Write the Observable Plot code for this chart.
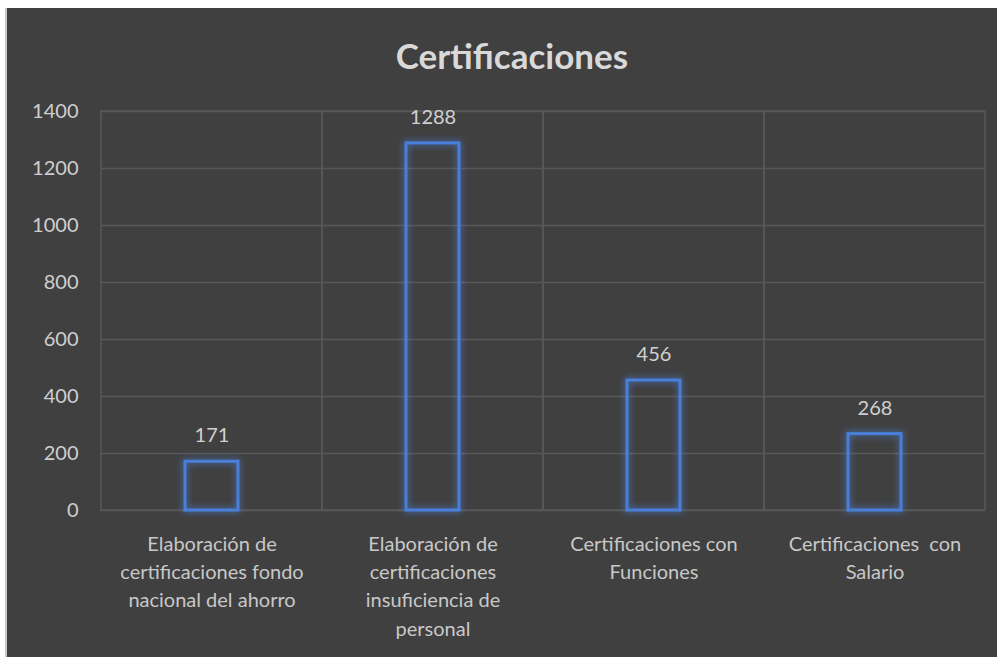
<!DOCTYPE html>
<html>
<head>
<meta charset="utf-8">
<script src="https://cdn.jsdelivr.net/npm/d3@7"></script>
<script src="https://cdn.jsdelivr.net/npm/@observablehq/plot@0.6"></script>
<style>
  html, body { margin: 0; padding: 0; background: #ffffff; width: 999px; height: 657px; overflow: hidden; }
  #panel { position: absolute; left: 7px; top: 8px; width: 990px; height: 649px; background: #404040; box-shadow: -2px 0 0 #c8c8c8; }
  #title { position: absolute; left: 0; top: 26px; width: 1010px; text-align: center; color: #d9d9d9;
    font-family: Lato, sans-serif; font-weight: bold; font-size: 35px; }
  #chart { position: absolute; left: 0; top: 87px; }
  #chart svg g[aria-label="y-axis tick label"] text { font-size: 20px; }
  #chart svg g[aria-label="x-axis tick label"] text { font-size: 20px; }
  #chart svg g[aria-label="text"] text { font-size: 20px; }
</style>
</head>
<body>
<div id="panel">
  <div id="title">Certificaciones</div>
  <div id="chart"></div>
</div>
<script>
const categories = [
  "Elaboración de certificaciones fondo nacional del ahorro",
  "Elaboración de certificaciones insuficiencia de personal",
  "Certificaciones con Funciones",
  "Certificaciones  con Salario"
];
const tickLabels = [
  "Elaboración de\ncertificaciones fondo\nnacional del ahorro",
  "Elaboración de\ncertificaciones\ninsuficiencia de\npersonal",
  "Certificaciones con\nFunciones",
  "Certificaciones  con\nSalario"
];
const values = [171, 1288, 456, 268];
const yTicks = [0, 200, 400, 600, 800, 1000, 1200, 1400];

const data = categories.map((c, i) => ({category: c, value: values[i]}));
const labelOf = new Map(categories.map((c, i) => [c, tickLabels[i]]));

const chart = Plot.plot({
  width: 990,
  height: 570,
  marginLeft: 93,
  marginRight: 12,
  marginTop: 16,
  marginBottom: 155,
  style: { background: "transparent", color: "#d0d0d0", fontFamily: "Lato, sans-serif", fontSize: "20px" },
  x: { domain: categories, padding: 0, label: null },
  y: { domain: [0, 1400], ticks: yTicks, label: null, tickFormat: d3.format("d") },
  marks: [
    Plot.gridY(yTicks, { stroke: "#585858", strokeOpacity: 1, strokeWidth: 1.5 }),
    Plot.barY(categories, { x: d => d, y1: 0, y2: 1400, fill: "none", stroke: "#585858", strokeWidth: 1.5 }),
    Plot.axisY({ ticks: yTicks, tickSize: 0, tickPadding: 22, tickFormat: d3.format("d"), fill: "#cfcfcf" }),
    Plot.axisX({ tickSize: 0, tickPadding: 20, tickFormat: c => labelOf.get(c), lineHeight: 1.42, fill: "#c8c8c8" }),
    Plot.barY(data, { x: "category", y: "value", fill: "none", stroke: "#4a7fd8", strokeWidth: 3, insetLeft: 84, insetRight: 84 }),
    Plot.text(data, { x: "category", y: "value", text: d => String(d.value), dy: -26, fill: "#d0d0d0" })
  ]
});
document.getElementById("chart").appendChild(chart);

// glow on value bars
const defs = d3.select(chart).append("defs");
const f = defs.append("filter").attr("id", "glow").attr("x", "-50%").attr("y", "-50%").attr("width", "200%").attr("height", "200%");
f.append("feGaussianBlur").attr("in", "SourceGraphic").attr("stdDeviation", 3.5).attr("result", "b");
const m = f.append("feMerge");
m.append("feMergeNode").attr("in", "b");
m.append("feMergeNode").attr("in", "SourceGraphic");
const barGroups = chart.querySelectorAll('g[aria-label="bar"]');
barGroups[barGroups.length - 1].setAttribute("filter", "url(#glow)");
</script>
</body>
</html>
